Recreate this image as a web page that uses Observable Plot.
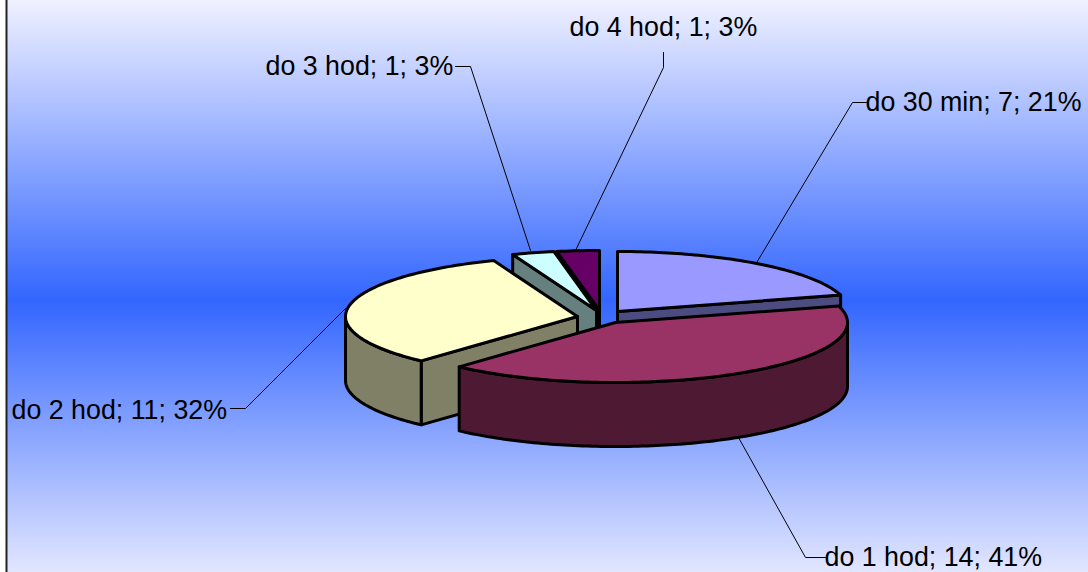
<!DOCTYPE html>
<html><head><meta charset="utf-8">
<script src="https://cdn.jsdelivr.net/npm/d3@7"></script>
<script src="https://cdn.jsdelivr.net/npm/@observablehq/plot@0.6"></script>
<style>
html,body{margin:0;padding:0;background:#fff;overflow:hidden}
svg{display:block}
</style></head><body>
<div id="chart"></div>
<script>
const categories = ["do 30 min", "do 1 hod", "do 2 hod", "do 3 hod", "do 4 hod"];
const values = [7, 14, 11, 1, 1];
const topColors = ["#9999FF", "#993366", "#FFFFCC", "#CCFFFF", "#660066"];
const wallColors = ["#4C4C80", "#4D1933", "#808066", "#668080", "#330033"];

// layout of the exploded pie, in picture units
const apexX = [617, 615, 577, 596, 599];
const apexY = [311, 322, 316, 310, 310];
const rx = 232, ry = 60, depth = 64;
const drawOrder = [4, 3, 0, 2, 1];
const labelX = [865, 824, 11, 265, 569];
const labelY = [102, 557, 410, 66, 27];
const leaderX = [[866, 852, 755], [825, 805, 738], [230, 245, 345], [455, 470, 530], [663, 663, 575]];
const leaderY = [[102, 102, 264], [557, 557, 437], [408, 408, 308], [66, 66, 250], [52, 67, 250]];

const total = d3.sum(values);
const arcs = d3.pie().sort(null)(values); // radians clockwise from the top
const pt = (i, a, dz = 0) => ({x: apexX[i] + rx * Math.sin(a), y: apexY[i] - ry * Math.cos(a) + dz});
const apex = (i, dz = 0) => ({x: apexX[i], y: apexY[i] + dz});
const arcPts = (i, a0, a1, dz = 0) => {
  const n = Math.max(1, Math.ceil(Math.abs(a1 - a0) / 0.02));
  return d3.range(n + 1).map(k => pt(i, a0 + (a1 - a0) * k / n, dz));
};
const closed = pts => [...pts, pts[0]];
const piece = (pts, fill) => Plot.line(closed(pts), {
  x: "x", y: "y", fill, stroke: "#000", strokeWidth: 3, strokeLinejoin: "round"
});

const sliceMarks = i => {
  const {startAngle: s, endAngle: e} = arcs[i];
  const marks = [];
  // cut face on the edge that looks toward the viewer
  const faceAngle = (i === 1) ? null : (i === 2 ? s : (i === 0 ? e : s));
  if (faceAngle !== null) {
    marks.push(piece([apex(i), pt(i, faceAngle), pt(i, faceAngle, depth), apex(i, depth)], wallColors[i]));
  }
  // outer rim on the part of the arc in front
  const f0 = Math.max(s, Math.PI / 2), f1 = Math.min(e, 3 * Math.PI / 2);
  if (f1 > f0) {
    marks.push(piece([...arcPts(i, f0, f1), ...arcPts(i, f1, f0, depth)], wallColors[i]));
  }
  marks.push(piece([apex(i), ...arcPts(i, s, e)], topColors[i]));
  return marks;
};

const leaders = categories.flatMap((c, i) => leaderX[i].map((x, k) => ({c, x, y: leaderY[i][k]})));
const labels = categories.map((c, i) => ({
  text: `${c}; ${values[i]}; ${Math.round(values[i] / total * 100)}%`, x: labelX[i], y: labelY[i]
}));

const plot = Plot.plot({
  width: 1088, height: 572,
  margin: 0,
  x: {domain: [0, 1088], range: [0, 1088], axis: null},
  y: {domain: [0, 572], range: [0, 572], axis: null},
  style: {
    background: "linear-gradient(to bottom,#F0F1FF 0px,#3366FF 300px,#E2E6FF 572px) 7px 0 / 1081px 572px no-repeat #fff",
    overflow: "hidden"
  },
  marks: [
    Plot.ruleX([6], {stroke: "#222", strokeWidth: 2}),
    Plot.line(leaders, {x: "x", y: "y", z: "c", stroke: "#000", strokeWidth: 1}),
    ...drawOrder.flatMap(sliceMarks),
    Plot.text(labels, {
      x: "x", y: "y", text: "text", textAnchor: "start", fill: "#000",
      fontFamily: "Liberation Sans", fontSize: 26.8
    })
  ]
});
document.getElementById("chart").append(plot);
</script>
</body></html>
